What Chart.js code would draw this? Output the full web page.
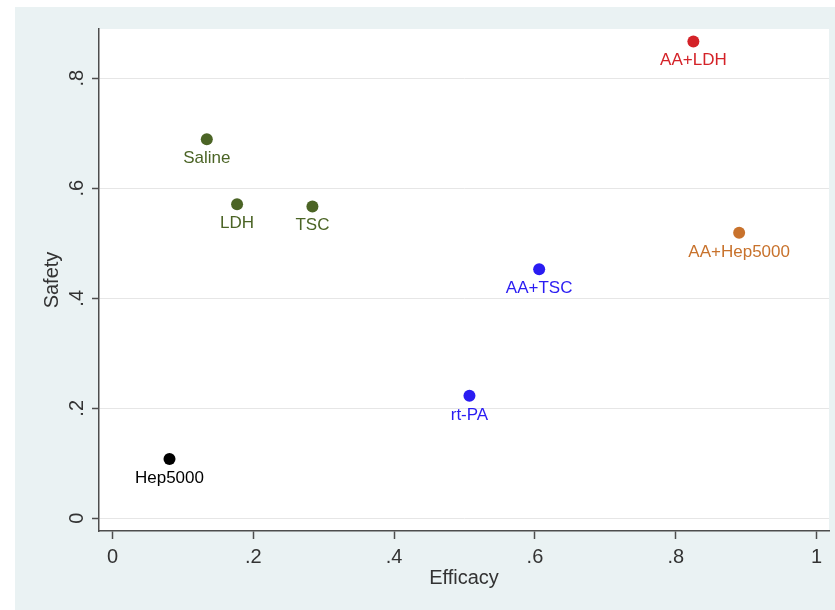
<!DOCTYPE html>
<html>
<head>
<meta charset="utf-8">
<script src="https://cdn.jsdelivr.net/npm/chart.js@4.4.1/dist/chart.umd.min.js"></script>
<style>
  html, body { margin: 0; padding: 0; background: #ffffff; }
  canvas { display: block; }
</style>
</head>
<body>
<canvas id="chart" width="835" height="610"></canvas>
<script>
// Treatment groups and their efficacy / safety scores
const groups   = ['AA+LDH', 'Saline', 'LDH', 'TSC', 'AA+Hep5000', 'AA+TSC', 'rt-PA', 'Hep5000'];
const efficacy = [0.825, 0.134, 0.177, 0.284, 0.890, 0.606, 0.507, 0.081];
const safety   = [0.867, 0.689, 0.571, 0.567, 0.519, 0.453, 0.223, 0.108];

// Axis ticks
const xTicks = [0, 0.2, 0.4, 0.6, 0.8, 1];
const xTickLabels = ['0', '.2', '.4', '.6', '.8', '1'];
const yTicks = [0, 0.2, 0.4, 0.6, 0.8];
const yTickLabels = ['0', '.2', '.4', '.6', '.8'];

// Marker / label colours per group
const groupColors = ['#d42228', '#4b6425', '#4b6425', '#4b6425', '#c8722c', '#2a1cf2', '#2a1cf2', '#000000'];

const FONT = '"Liberation Sans", Arial, Helvetica, sans-serif';
const AXIS_COLOR = '#4d4d4d';
const TEXT_COLOR = '#333333';

const backgroundPlugin = {
  id: 'panelBackground',
  beforeDraw(chart) {
    const { ctx, chartArea } = chart;
    ctx.save();
    ctx.fillStyle = '#ffffff';
    ctx.fillRect(0, 0, chart.width, chart.height);
    ctx.fillStyle = '#eaf2f3';
    ctx.fillRect(15, 7, chart.width - 15, chart.height - 7);
    ctx.fillStyle = '#ffffff';
    ctx.fillRect(chartArea.left, chartArea.top,
                 chartArea.right - chartArea.left, chartArea.bottom - chartArea.top);
    ctx.restore();
  }
};

// Rotated y tick labels, reading bottom to top
const yLabelPlugin = {
  id: 'yTickText',
  afterDraw(chart) {
    const { ctx } = chart;
    const y = chart.scales.y;
    ctx.save();
    ctx.font = '20px ' + FONT;
    ctx.fillStyle = TEXT_COLOR;
    ctx.textAlign = 'center';
    ctx.textBaseline = 'middle';
    yTicks.forEach((v, i) => {
      const py = y.getPixelForValue(v);
      ctx.save();
      ctx.translate(chart.chartArea.left - 22, py);
      ctx.rotate(-Math.PI / 2);
      ctx.fillText(yTickLabels[i], 0, 0);
      ctx.restore();
    });
    ctx.restore();
  }
};

// Group names under each marker
const pointLabelPlugin = {
  id: 'pointNames',
  afterDatasetsDraw(chart) {
    const { ctx } = chart;
    const meta = chart.getDatasetMeta(0);
    ctx.save();
    ctx.font = '17px ' + FONT;
    ctx.textAlign = 'center';
    ctx.textBaseline = 'alphabetic';
    meta.data.forEach((el, i) => {
      ctx.fillStyle = groupColors[i];
      ctx.fillText(groups[i], el.x, el.y + 24);
    });
    ctx.restore();
  }
};

new Chart(document.getElementById('chart'), {
  type: 'scatter',
  data: {
    datasets: [{
      data: efficacy.map((e, i) => ({ x: e, y: safety[i] })),
      backgroundColor: groupColors,
      borderColor: groupColors,
      borderWidth: 0,
      pointRadius: 6,
      pointHoverRadius: 6
    }]
  },
  options: {
    responsive: false,
    animation: false,
    devicePixelRatio: 1,
    layout: { padding: { left: 15, top: 29, right: 4, bottom: 0 } },
    plugins: {
      legend: { display: false },
      tooltip: { enabled: false }
    },
    scales: {
      x: {
        type: 'linear',
        min: -0.0191,
        max: 1.0176,
        afterBuildTicks(scale) { scale.ticks = xTicks.map(v => ({ value: v })); },
        afterFit(scale) { scale.height = 79; },
        ticks: {
          font: { family: FONT, size: 20 },
          color: TEXT_COLOR,
          padding: 6,
          maxRotation: 0,
          callback(value) {
            const idx = xTicks.findIndex(t => Math.abs(t - value) < 1e-9);
            return idx >= 0 ? xTickLabels[idx] : '';
          }
        },
        grid: {
          drawOnChartArea: false,
          drawTicks: true,
          tickLength: 8,
          tickColor: AXIS_COLOR,
          tickWidth: 1.5
        },
        border: { display: true, color: AXIS_COLOR, width: 1.5 },
        title: {
          display: true,
          text: 'Efficacy',
          font: { family: FONT, size: 20 },
          color: TEXT_COLOR,
          padding: { top: 0, bottom: 20 }
        }
      },
      y: {
        type: 'linear',
        min: -0.0231,
        max: 0.8896,
        afterBuildTicks(scale) { scale.ticks = yTicks.map(v => ({ value: v })); },
        afterFit(scale) { scale.width = 84; },
        ticks: { display: false },
        grid: {
          drawOnChartArea: true,
          color: '#e6e6e6',
          lineWidth: 1,
          drawTicks: true,
          tickLength: 7,
          tickColor: AXIS_COLOR,
          tickWidth: 1.5
        },
        border: { display: true, color: AXIS_COLOR, width: 1.5 },
        title: {
          display: true,
          text: 'Safety',
          font: { family: FONT, size: 20 },
          color: TEXT_COLOR,
          padding: { top: 25, bottom: 0 }
        }
      }
    }
  },
  plugins: [backgroundPlugin, yLabelPlugin, pointLabelPlugin]
});
</script>
</body>
</html>
